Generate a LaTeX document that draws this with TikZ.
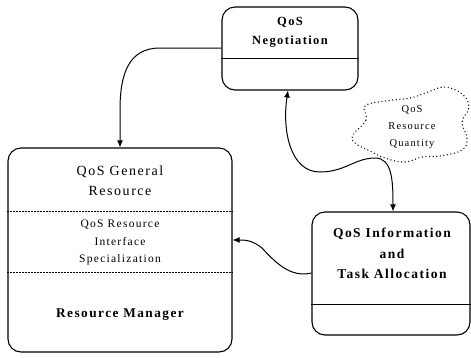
\documentclass[tikz,border=0pt]{standalone}
\usepackage{fontspec}
\setmainfont{Liberation Serif}[LetterSpace=11]
\usetikzlibrary{arrows.meta,calc}
\begin{document}
\begin{tikzpicture}[x=1pt,y=-1pt,
  box/.style={draw,line width=1.1pt,rounded corners=13pt,inner sep=0pt},
  lbl/.style={align=center,inner sep=0pt},
  conn/.style={line width=1pt,-{Latex[length=7pt,width=6pt]}},
  divide/.style={line width=1pt},
  ddivide/.style={line width=0.5pt,dash pattern=on 2pt off 1pt},
  dots/.style={line width=1.4pt,line cap=round,dash pattern=on 0pt off 3.6pt}]
\useasboundingbox (0,0) rectangle (471,357);
% boxes
\node[box,minimum width=136pt,minimum height=83pt] (neg) at (290,48.5) {};
\node[box,minimum width=224pt,minimum height=204pt] (gen) at (120,250) {};
\node[box,minimum width=158pt,minimum height=123pt] (task) at (391,273.5) {};
% cloud
\draw[dots] plot[smooth cycle,tension=0.7] coordinates {(353,135) (366,120) (365,106) (385,101) (410,98) (428,92) (445,87) (462,94) (469,107) (462,122) (467,138) (462,150) (440,156) (422,157) (405,162) (385,158) (368,150) (355,143)};
% dividers
\draw[divide] (neg.west |- 0,58) -- (neg.east |- 0,58);
\draw[ddivide] (gen.west |- 0,211) -- (gen.east |- 0,211);
\draw[ddivide] (gen.west |- 0,272) -- (gen.east |- 0,272);
\draw[divide] (task.west |- 0,304) -- (task.east |- 0,304);
% texts
\node[lbl,font=\fontsize{12.5}{19}\selectfont\bfseries] (negt) at (290,32.5) {QoS\\Negotiation};
\node[lbl,font=\fontsize{14}{20}\selectfont] (gent1) at (120,181) {QoS General\\Resource};
\node[lbl,font=\fontsize{11.5}{17.5}\selectfont] (gent2) at (120,242.5) {QoS Resource\\Interface\\Specialization};
\node[lbl,font=\fontsize{13.3}{19}\selectfont\bfseries] (gent3) at (120,315) {Resource Manager};
\node[lbl,font=\fontsize{13.5}{20.5}\selectfont\bfseries] (taskt) at (392,253.5) {QoS Information\\and\\Task Allocation};
\node[lbl,font=\fontsize{10.5}{17}\selectfont] (cloudt) at (412,127) {QoS\\Resource\\Quantity};
% connectors
\coordinate (n1) at (160,48);
\coordinate (n2) at (120,110);
\draw[conn] (neg.west |- 0,48) -- (n1) .. controls (128,48) and (120,75) .. (n2) -- (gen.north);
\coordinate (d1) at (320,172);
\coordinate (d2) at (375,158);
\draw[conn,{Latex[length=7pt,width=6pt]}-{Latex[length=7pt,width=6pt]}] (288,90.5) .. controls (282,130) and (290,172) .. (d1) .. controls (345,172) and (355,158) .. (d2) .. controls (392,158) and (393,180) .. (task.north -| 393,0);
\coordinate (t1) at (262,248);
\draw[conn] (task.west |- 0,273) .. controls (290,278) and (275,262) .. (t1) .. controls (252,240) and (245,240) .. (gen.east |- 0,240);
\end{tikzpicture}
\end{document}
